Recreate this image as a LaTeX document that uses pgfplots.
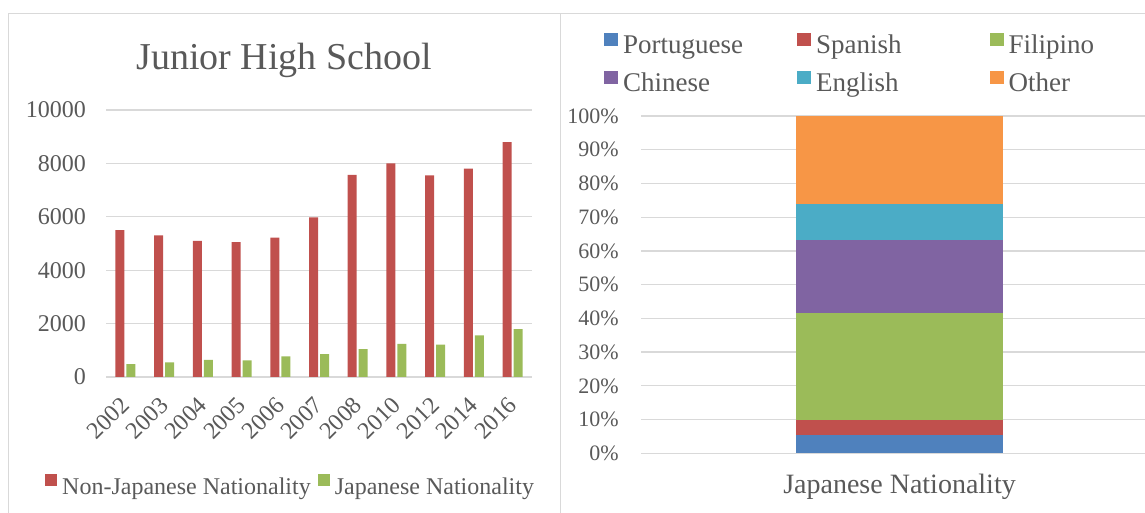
\documentclass[border=0pt]{standalone}
\usepackage{pgfplots}
\pgfplotsset{compat=1.18}
\usepackage{fontspec}
\setmainfont{Liberation Serif}
\definecolor{txt}{HTML}{595959}
\definecolor{gridc}{HTML}{D9D9D9}
\definecolor{cred}{HTML}{C0504D}
\definecolor{cgreen}{HTML}{9BBB59}
\definecolor{cblue}{HTML}{4F81BD}
\definecolor{cpurple}{HTML}{8064A2}
\definecolor{cteal}{HTML}{4BACC6}
\definecolor{corange}{HTML}{F79646}
\begin{document}
\begin{tikzpicture}[x=1pt,y=1pt]
\useasboundingbox (0,0) rectangle (1145,513);
\draw[gridc, line width=1.5pt] (8.5,-5) -- (8.5,499.5) -- (1150,499.5);
\draw[gridc, line width=1.5pt] (560.7,-5) -- (560.7,499.5);

\begin{axis}[
  at={(106pt,136pt)}, anchor=south west,
  scale only axis, width=426pt, height=267pt,
  ybar=2pt, bar width=9pt,
  xmin=-0.5, xmax=10.5, ymin=0, ymax=10000,
  scaled y ticks=false,
  xtick={0,...,10},
  xticklabels={2002,2003,2004,2005,2006,2007,2008,2010,2012,2014,2016},
  ytick={0,2000,4000,6000,8000,10000},
  yticklabels={0,2000,4000,6000,8000,10000},
  axis line style={draw=none}, major tick length=0pt, tick style={draw=none},
  ymajorgrids, major grid style={gridc, line width=1.3pt},
  tick label style={font=\fontsize{24}{28}\selectfont, text=txt},
  yticklabel style={anchor=east, inner sep=0pt},
  yticklabel shift=20pt,
  xticklabel style={anchor=east, rotate=45, inner sep=0pt},
  xticklabel shift=24pt,
  title={Junior High School},
  title style={at={(0.418,1.1536)}, anchor=base, yshift=-7pt, inner sep=0pt, font=\fontsize{38}{44}\selectfont, text=txt},
  legend columns=2, legend cell align=left,
  legend image code/.code={\fill[#1] (0pt,2pt) rectangle (12pt,14pt);},
  legend style={at={(-0.1432,-0.3633)}, anchor=north west, draw=none, fill=none, inner sep=0pt,
    font=\fontsize{24}{28}\selectfont, text=txt,
    nodes={inner sep=0pt, text height=17pt, text depth=5pt},
    /tikz/every odd column/.style={column sep=5pt},
    /tikz/every even column/.style={column sep=7pt}},
]
\addplot[fill=cred, draw=none] coordinates {(0,5500) (1,5300) (2,5100) (3,5050) (4,5220) (5,5980) (6,7570) (7,8000) (8,7550) (9,7800) (10,8800)};
\addplot[fill=cgreen, draw=none] coordinates {(0,480) (1,550) (2,640) (3,625) (4,775) (5,860) (6,1040) (7,1240) (8,1210) (9,1560) (10,1790)};
\legend{Non-Japanese Nationality, Japanese Nationality}
\end{axis}

\begin{axis}[
  at={(641pt,59.7pt)}, anchor=south west,
  scale only axis, width=517pt, height=337.3pt,
  ybar stacked, bar width=207pt,
  xmin=-258.5, xmax=258.5, ymin=0, ymax=100,
  xtick={0}, xticklabels={Japanese Nationality},
  ytick={0,10,...,100},
  yticklabels={0\%,10\%,20\%,30\%,40\%,50\%,60\%,70\%,80\%,90\%,100\%},
  axis line style={draw=none}, major tick length=0pt, tick style={draw=none},
  ymajorgrids, major grid style={gridc, line width=1.3pt},
  yticklabel style={anchor=east, inner sep=0pt, font=\fontsize{22}{26}\selectfont, text=txt},
  yticklabel shift=22pt,
  xticklabel style={anchor=north, inner sep=0pt, font=\fontsize{28}{32}\selectfont, text=txt},
  xticklabel shift=21pt,
  legend columns=3, legend cell align=left,
  legend image code/.code={\fill[#1] (0pt,1pt) rectangle (14pt,14pt);},
  legend style={at={(-0.0716,1.2470)}, anchor=north west, draw=none, fill=none, inner sep=0pt,
    font=\fontsize{27}{31}\selectfont, text=txt, row sep=12pt,
    nodes={inner sep=0pt, text height=19pt, text depth=6pt},
    /tikz/every odd column/.style={column sep=5pt},
    /tikz/column 2/.style={column sep=54pt},
    /tikz/column 4/.style={column sep=88pt}},
]
\addplot[fill=cblue, draw=none] coordinates {(0,5.4)};
\addplot[fill=cred, draw=none] coordinates {(0,4.5)};
\addplot[fill=cgreen, draw=none] coordinates {(0,31.8)};
\addplot[fill=cpurple, draw=none] coordinates {(0,21.6)};
\addplot[fill=cteal, draw=none] coordinates {(0,10.7)};
\addplot[fill=corange, draw=none] coordinates {(0,26.0)};
\legend{Portuguese, Spanish, Filipino, Chinese, English, Other}
\end{axis}
\end{tikzpicture}
\end{document}
